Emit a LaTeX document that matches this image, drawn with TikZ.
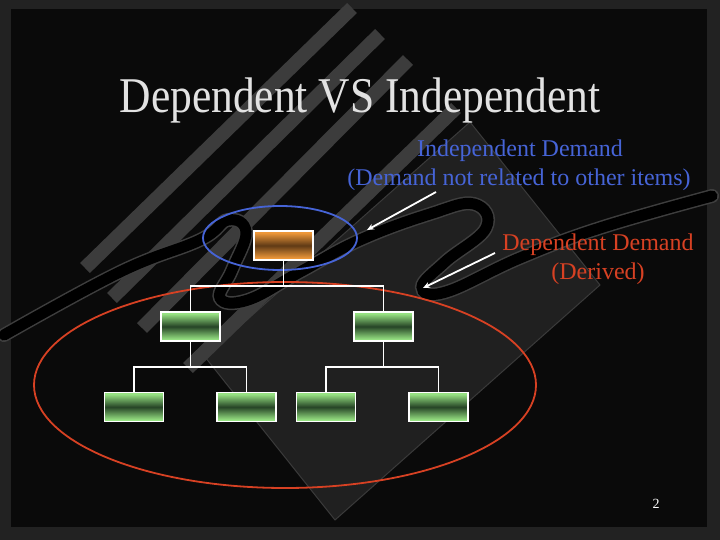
\documentclass[tikz,border=0pt]{standalone}
\usepackage{fontspec}
\setmainfont{Liberation Serif}
\newfontfamily\titlefont[FakeStretch=0.87]{Liberation Serif}
\usetikzlibrary{arrows.meta, shapes.geometric, calc}

\definecolor{slidebg}{RGB}{10,10,10}
\definecolor{framegray}{RGB}{34,34,34}
\definecolor{diamondgray}{RGB}{32,32,32}
\definecolor{diamondedge}{RGB}{58,58,58}
\definecolor{stripegray}{RGB}{60,60,60}
\definecolor{waveedge}{RGB}{62,62,62}
\definecolor{indepblue}{RGB}{70,100,215}
\definecolor{depred}{RGB}{215,65,35}
\definecolor{boxorange}{RGB}{238,152,58}
\definecolor{boxbrown}{RGB}{95,58,22}
\definecolor{boxgreen}{RGB}{150,225,130}
\definecolor{boxdark}{RGB}{38,68,38}
\definecolor{titlegray}{RGB}{226,226,226}

\pgfdeclareverticalshading{greenband}{100bp}{color(0bp)=(boxgreen); color(28bp)=(boxgreen); color(50bp)=(boxdark); color(72bp)=(boxgreen); color(100bp)=(boxgreen)}
\pgfdeclareverticalshading{orangeband}{100bp}{color(0bp)=(boxorange); color(28bp)=(boxorange); color(50bp)=(boxbrown); color(72bp)=(boxorange); color(100bp)=(boxorange)}

\tikzset{
  item/.style={draw=white, line width=1.6pt, minimum width=59, minimum height=29, inner sep=0pt},
  parentbox/.style={item, shade, shading=orangeband},
  childbox/.style={item, shade, shading=greenband},
  link/.style={draw=white, line width=1.4pt},
  pointer/.style={draw=white, line width=1.8pt, -{Stealth[length=7pt,width=6pt]}},
  ring/.style={ellipse, draw, line width=1.8pt, inner sep=0pt},
  indeptext/.style={text=indepblue, font=\fontsize{24}{29}\selectfont, anchor=base},
  deptext/.style={text=depred, font=\fontsize{24}{29}\selectfont, anchor=base},
}

\begin{document}
\begin{tikzpicture}[x=1pt, y=-1pt]
    \useasboundingbox (0,0) rectangle (720,540);

    % slide background
    \fill[framegray] (0,0) rectangle (720,540);
    \fill[slidebg] (11,9) rectangle (707,527);
    \filldraw[fill=diamondgray, draw=diamondedge, line width=1pt] (470,122) -- (600,285) -- (335,520) -- (205,357) -- cycle;
    \foreach \sx/\sy/\ex/\ey in {352/8/85/268, 380/34/112/298, 408/60/142/328, 456/108/188/368} {
        \draw[stripegray, line width=14pt] (\sx,\sy) -- (\ex,\ey);
    }
    \draw[waveedge, line width=14pt, line cap=round] plot[smooth, tension=0.7] coordinates {(4,335) (120,272) (200,240) (228,220) (246,232) (232,270) (220,298) (248,300) (300,272) (360,240) (430,214) (474,204) (486,228) (445,262) (422,287) (446,292) (520,258) (600,228) (712,196)};
    \draw[black, line width=11pt, line cap=round] plot[smooth, tension=0.7] coordinates {(4,335) (120,272) (200,240) (228,220) (246,232) (232,270) (220,298) (248,300) (300,272) (360,240) (430,214) (474,204) (486,228) (445,262) (422,287) (446,292) (520,258) (600,228) (712,196)};

    % title
    \node[anchor=base, text=titlegray, font=\titlefont\fontsize{50}{60}\selectfont] (title) at (360,113) {Dependent VS Independent};

    % groups
    \node[ring, draw=indepblue, minimum width=154, minimum height=64] (indepring) at (280,238) {};
    \node[ring, draw=depred, minimum width=502, minimum height=206] (depring) at (285,385) {};

    % tree
    \node[parentbox] (root) at (283.5,245.5) {};
    \node[childbox] (midL) at (190.5,326.5) {};
    \node[childbox] (midR) at (383.5,326.5) {};
    \foreach \x/\n in {134/leafA, 246.5/leafB, 326/leafC, 438.5/leafD} {
        \node[childbox] (\n) at (\x,407) {};
    }
    \draw[link] (root.south) -- ++(0,25) -| (midL.north);
    \draw[link] (root.south) -- ++(0,25) -| (midR.north);
    \foreach \p/\c in {midL/leafA, midL/leafB, midR/leafC, midR/leafD} {
        \draw[link] (\p.south) -- ++(0,25) -| (\c.north);
    }

    % labels
    \node[indeptext] (indeplabel) at (520,157) {Independent Demand};
    \node[indeptext] (indepnote) at (519,186) {(Demand not related to other items)};
    \node[deptext] (deplabel) at (598,250) {Dependent Demand};
    \node[deptext] (depnote) at (598,279) {(Derived)};

    \coordinate (indeptail) at (436,192);
    \coordinate (indeptip) at (367,230);
    \coordinate (deptail) at (495,253);
    \coordinate (deptip) at (423,288);
    \draw[pointer] (indeptail) -- (indeptip);
    \draw[pointer] (deptail) -- (deptip);

    \node[anchor=base, text=white, font=\fontsize{14}{16}\selectfont] (pagenum) at (656,508) {2};
\end{tikzpicture}
\end{document}
